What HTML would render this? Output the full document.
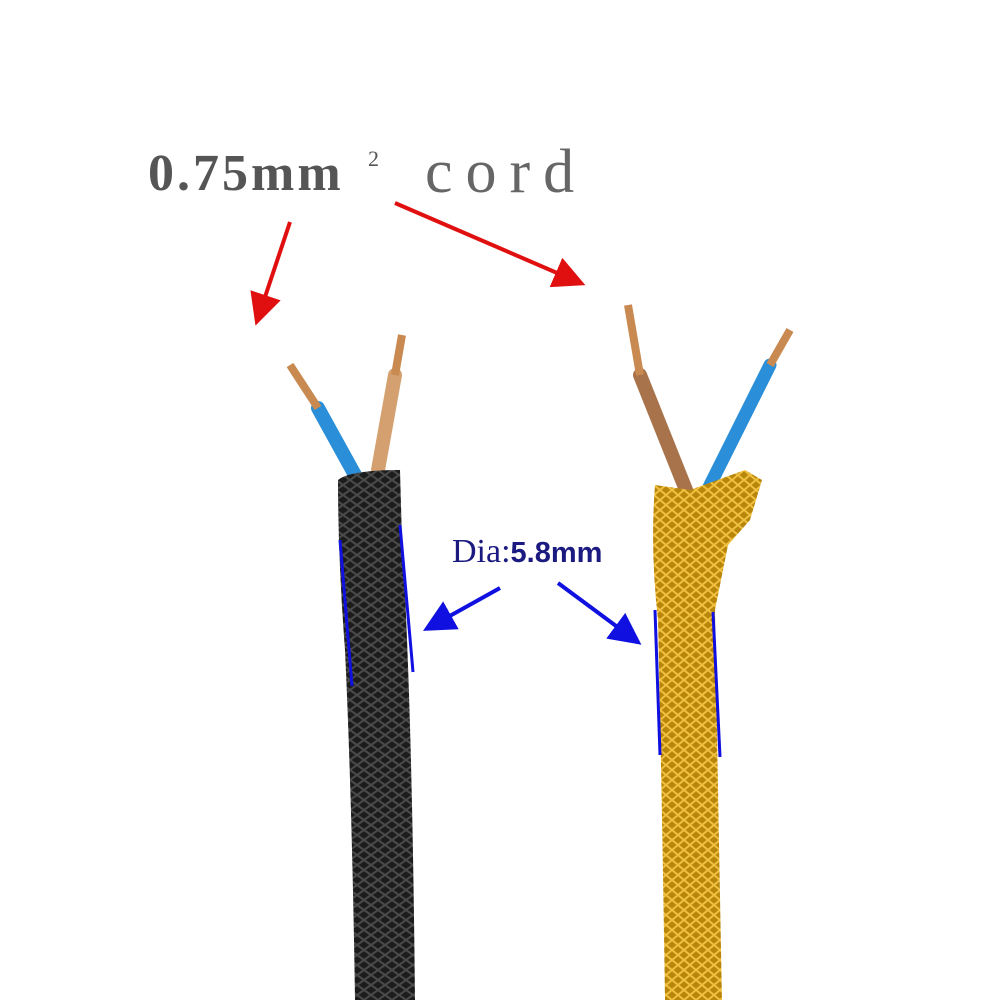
<!DOCTYPE html>
<html><head><meta charset="utf-8"><style>
html,body{margin:0;padding:0;background:#fff;width:1000px;height:1000px;overflow:hidden}
</style></head><body>
<svg width="1000" height="1000" viewBox="0 0 1000 1000" xmlns="http://www.w3.org/2000/svg">
<defs>
<pattern id="braidB" width="14" height="10" patternUnits="userSpaceOnUse">
<rect width="14" height="10" fill="#1c1c1c"/>
<path d="M0 0 L7 5 L0 10 M14 0 L7 5 L14 10" stroke="#4a4a4a" stroke-width="2" fill="none"/>
</pattern>
<pattern id="braidG" width="12" height="10" patternUnits="userSpaceOnUse">
<rect width="12" height="10" fill="#b8860b"/>
<path d="M0 0 L6 5 L0 10 M12 0 L6 5 L12 10" stroke="#f0c040" stroke-width="2" fill="none"/>
</pattern>
<marker id="ar" markerWidth="8" markerHeight="8" refX="6" refY="4" orient="auto" markerUnits="strokeWidth">
<path d="M0 0 L8 4 L0 8 Z" fill="#e01010"/></marker>
<marker id="ab" markerWidth="8" markerHeight="8" refX="6" refY="4" orient="auto" markerUnits="strokeWidth">
<path d="M0 0 L8 4 L0 8 Z" fill="#1010e0"/></marker>
</defs>

<path d="M355 475 L318 408" stroke="#2a8fd8" stroke-width="14" stroke-linecap="round"/>
<path d="M318 408 L290 365" stroke="#c88a50" stroke-width="8"/>
<path d="M378 470 L395 375" stroke="#d4a070" stroke-width="14" stroke-linecap="round"/>
<path d="M395 375 L402 335" stroke="#c88a50" stroke-width="8"/>
<path d="M338 480 Q350 470 400 470 L402 540 Q412 700 415 1000 L355 1000 Q352 800 345 650 Q338 560 338 480 Z" fill="url(#braidB)"/>

<path d="M688 495 L640 375" stroke="#a8724a" stroke-width="14" stroke-linecap="round"/>
<path d="M640 375 L628 305" stroke="#c88a50" stroke-width="8"/>
<path d="M705 495 L770 365" stroke="#2a8fd8" stroke-width="13" stroke-linecap="round"/>
<path d="M770 365 L790 330" stroke="#c88a50" stroke-width="8"/>
<path d="M655 485 L690 490 L745 470 L762 480 L750 520 L728 545 L715 610 Q718 800 722 1000 L665 1000 Q662 800 658 620 Q650 550 655 485 Z" fill="url(#braidG)"/>

<text x="148" y="190" font-family="Liberation Serif, serif" font-size="52" font-weight="bold" fill="#555" letter-spacing="3">0.75mm</text>
<text x="368" y="166" font-family="Liberation Serif, serif" font-size="22" fill="#555">2</text>
<text x="425" y="192" font-family="Liberation Serif, serif" font-size="62" fill="#666" letter-spacing="13">cord</text>
<text x="452" y="562" font-family="Liberation Serif, serif" font-size="34" fill="#1a1a80">Dia:<tspan font-family="Liberation Sans, sans-serif" font-size="29" font-weight="bold">5.8mm</tspan></text>

<line x1="290" y1="222" x2="258" y2="318" stroke="#e01010" stroke-width="4" marker-end="url(#ar)"/>
<line x1="395" y1="203" x2="578" y2="282" stroke="#e01010" stroke-width="4" marker-end="url(#ar)"/>
<line x1="500" y1="588" x2="430" y2="627" stroke="#1010e0" stroke-width="4" marker-end="url(#ab)"/>
<line x1="558" y1="583" x2="635" y2="640" stroke="#1010e0" stroke-width="4" marker-end="url(#ab)"/>
<g stroke="#1010e0" stroke-width="3">
<line x1="340" y1="540" x2="352" y2="686"/>
<line x1="400" y1="525" x2="413" y2="672"/>
<line x1="655" y1="610" x2="660" y2="755"/>
<line x1="713" y1="612" x2="720" y2="757"/>
</g>
</svg>
</body></html>
